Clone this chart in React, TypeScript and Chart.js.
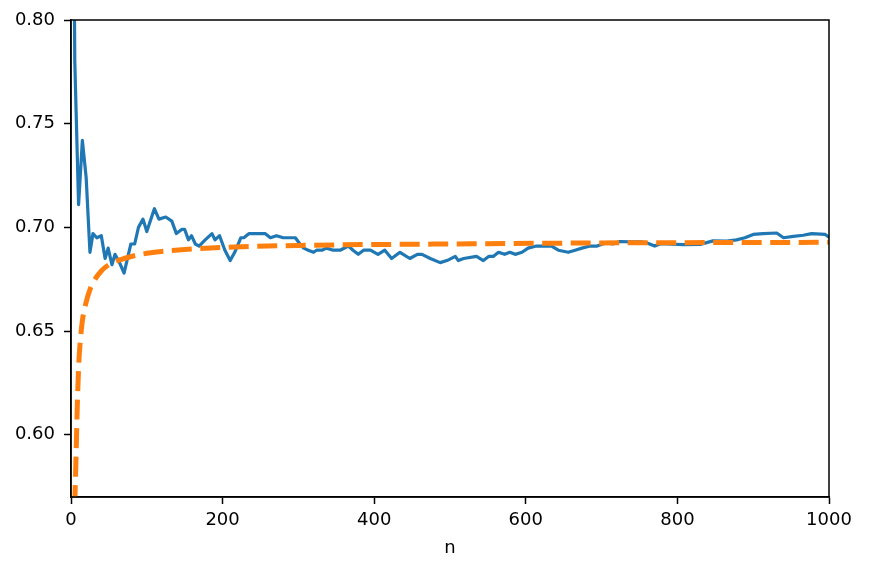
import React, { useEffect, useRef } from "react";
import { Chart, registerables } from "chart.js";

Chart.register(...registerables);

const blueN = [1, 5, 10, 15, 20, 25, 29, 34, 40, 45, 49, 54, 58, 64, 70, 79, 84, 89, 95, 100, 110, 116, 125, 133, 139, 146, 150, 155, 159, 164, 169, 177, 186, 190, 196, 203, 210, 216, 224, 228, 235, 256, 263, 271, 280, 287, 291, 296, 302, 307, 313, 320, 324, 331, 337, 346, 355, 366, 372, 379, 386, 395, 405, 414, 423, 434, 447, 457, 463, 474, 487, 496, 507, 511, 518, 535, 544, 551, 557, 564, 572, 579, 586, 595, 603, 614, 628, 634, 643, 656, 665, 674, 685, 694, 705, 715, 724, 738, 751, 760, 770, 777, 786, 808, 830, 847, 865, 878, 889, 900, 913, 931, 940, 953, 966, 977, 995, 1000];
const blueValues = [1.0, 0.78, 0.711, 0.742, 0.724, 0.688, 0.697, 0.695, 0.696, 0.685, 0.69, 0.682, 0.687, 0.683, 0.678, 0.692, 0.692, 0.7, 0.704, 0.698, 0.709, 0.704, 0.705, 0.703, 0.697, 0.699, 0.699, 0.694, 0.696, 0.692, 0.691, 0.694, 0.697, 0.694, 0.696, 0.689, 0.684, 0.688, 0.695, 0.695, 0.697, 0.697, 0.695, 0.696, 0.695, 0.695, 0.695, 0.695, 0.692, 0.69, 0.689, 0.688, 0.689, 0.689, 0.69, 0.689, 0.689, 0.691, 0.689, 0.687, 0.689, 0.689, 0.687, 0.689, 0.685, 0.688, 0.685, 0.687, 0.687, 0.685, 0.683, 0.684, 0.686, 0.684, 0.685, 0.686, 0.684, 0.686, 0.686, 0.688, 0.687, 0.688, 0.687, 0.688, 0.69, 0.691, 0.691, 0.691, 0.689, 0.688, 0.689, 0.69, 0.691, 0.691, 0.6925, 0.692, 0.6932, 0.693, 0.693, 0.6925, 0.691, 0.692, 0.692, 0.6917, 0.6918, 0.6935, 0.6934, 0.694, 0.695, 0.6966, 0.697, 0.6973, 0.695, 0.6957, 0.6962, 0.697, 0.6966, 0.6953];

const orangeN = [1, 2, 3, 4, 5, 6, 7, 8, 9, 10.5, 12, 15, 20, 25, 30, 40, 50, 70, 100, 150, 200, 300, 500, 700, 1000];
const orangeValues = [0.25, 0.4, 0.48, 0.53, 0.565, 0.58, 0.595, 0.61, 0.622, 0.636, 0.644, 0.655, 0.664, 0.67, 0.674, 0.679, 0.682, 0.685, 0.6875, 0.6893, 0.6903, 0.6913, 0.692, 0.6925, 0.6928];

const xTicks = [0, 200, 400, 600, 800, 1000];
const yTicks = [0.6, 0.65, 0.7, 0.75, 0.8];

const FONT = "DejaVu Sans";

const boxPlugin = {
  id: "box",
  afterDraw(chart: any) {
    const { ctx, chartArea } = chart;
    ctx.save();
    ctx.strokeStyle = "#000";
    ctx.lineWidth = 1.5;
    ctx.strokeRect(chartArea.left, chartArea.top, chartArea.right - chartArea.left, chartArea.bottom - chartArea.top);
    ctx.restore();
  },
};

export default function App() {
  const ref = useRef<HTMLCanvasElement | null>(null);
  useEffect(() => {
    document.body.style.margin = "0";
    const canvas = ref.current;
    if (!canvas) return;
    const chart = new Chart(canvas, {
      type: "line",
      data: {
        datasets: [
          {
            label: "orange",
            data: orangeN.map((n, i) => ({ x: n, y: orangeValues[i] })),
            borderColor: "#ff7f0e",
            borderWidth: 5,
            borderDash: [20, 8.5],
            borderCapStyle: "butt",
            pointRadius: 0,
            fill: false,
            cubicInterpolationMode: "monotone",
          },
          {
            label: "blue",
            data: blueN.map((n, i) => ({ x: n, y: blueValues[i] })),
            borderColor: "#1f77b4",
            borderWidth: 3.2,
            borderJoinStyle: "round",
            borderCapStyle: "round",
            pointRadius: 0,
            fill: false,
            tension: 0,
          },
        ],
      },
      options: {
        animation: false,
        responsive: false,
        maintainAspectRatio: false,
        layout: { padding: { top: 20, right: 40, left: 0, bottom: 0 } },
        plugins: { legend: { display: false }, tooltip: { enabled: false } },
        scales: {
          x: {
            type: "linear",
            min: 0,
            max: 1000,
            afterBuildTicks: (s: any) => {
              s.ticks = xTicks.map((v) => ({ value: v }));
            },
            afterFit: (s: any) => {
              s.height = 73;
            },
            ticks: {
              color: "#000",
              font: { family: FONT, size: 18 },
              padding: 6,
              maxRotation: 0,
              autoSkip: false,
              callback: (v: any) => String(v),
            },
            grid: { display: true, drawOnChartArea: false, drawTicks: true, tickLength: 7, tickWidth: 1.5, tickColor: "#000" },
            border: { display: true, color: "#000", width: 1.5 },
            title: { display: true, text: "n", color: "#000", font: { family: FONT, size: 18 }, padding: { top: 0, bottom: 11 } },
          },
          y: {
            type: "linear",
            min: 0.57,
            max: 0.8,
            afterBuildTicks: (s: any) => {
              s.ticks = yTicks.map((v) => ({ value: v }));
            },
            afterFit: (s: any) => {
              s.width = 71;
            },
            ticks: {
              color: "#000",
              font: { family: FONT, size: 18 },
              padding: 9,
              autoSkip: false,
              callback: (v: any) => Number(v).toFixed(2),
            },
            grid: { display: true, drawOnChartArea: false, drawTicks: true, tickLength: 7, tickWidth: 1.5, tickColor: "#000" },
            border: { display: true, color: "#000", width: 1.5 },
          },
        },
      },
      plugins: [boxPlugin],
    } as any);
    return () => chart.destroy();
  }, []);
  return (
    <div style={{ position: "absolute", left: 0, top: 0, width: 869, height: 570, background: "#fff" }}>
      <canvas ref={ref} width={869} height={570} style={{ width: 869, height: 570 }} />
    </div>
  );
}
